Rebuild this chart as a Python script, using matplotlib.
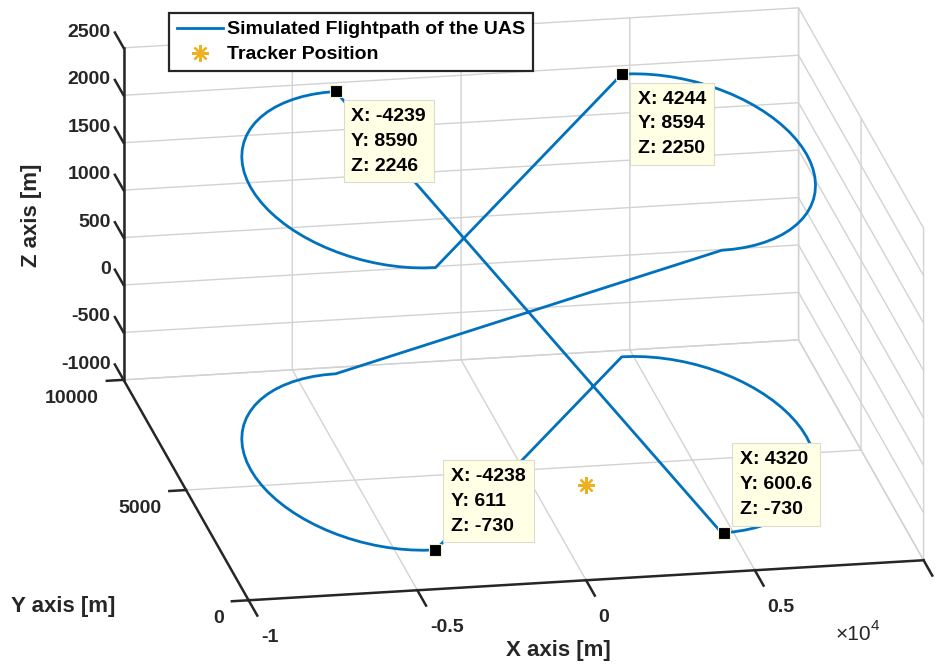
import numpy as np
import matplotlib
matplotlib.use("Agg")
import matplotlib.pyplot as plt
from matplotlib.lines import Line2D
from matplotlib.ticker import NullFormatter
from matplotlib.transforms import offset_copy
from mpl_toolkits.mplot3d import proj3d

# ---------------- data ----------------
arc_y = [8590, 8575, 8529, 8454, 8349, 8216, 8055, 7868, 7655, 7420, 7163, 6886,
         6593, 6283, 5961, 5629, 5289, 4943, 4595, 4247, 3901, 3561, 3229, 2907,
         2597, 2304, 2027, 1770, 1535, 1322, 1135, 974, 841, 736, 661, 615, 600]
left_loop_x = [-4240, -4588, -4934, -5274, -5606, -5928, -6238, -6531, -6808, -7065,
               -7300, -7513, -7700, -7861, -7994, -8099, -8174, -8220, -8235, -8220,
               -8174, -8099, -7994, -7861, -7700, -7513, -7300, -7065, -6808, -6531,
               -6238, -5928, -5606, -5274, -4934, -4588, -4240]
right_loop_x = [4240, 4588, 4934, 5274, 5606, 5928, 6238, 6531, 6808, 7065,
                7300, 7513, 7700, 7861, 7994, 8099, 8174, 8220, 8235, 8220,
                8174, 8099, 7994, 7861, 7700, 7513, 7300, 7065, 6808, 6531,
                6238, 5928, 5606, 5274, 4934, 4588, 4240]
upper_left_z = 2246
upper_right_z = 2250
lower_z = -730

tracker_x, tracker_y, tracker_z = [0], [0], [0]

tip_x = [-4239, 4244, -4238, 4320]
tip_y = [8590, 8594, 611, 600.6]
tip_z = [2246, 2250, -730, -730]
tip_labels = ["X: -4239\nY: 8590\nZ: 2246",
              "X: 4244\nY: 8594\nZ: 2250",
              "X: -4238\nY: 611\nZ: -730",
              "X: 4320\nY: 600.6\nZ: -730"]

x_ticks = [-10000, -5000, 0, 5000, 10000]
x_tick_labels = ["-1", "-0.5", "0", "0.5", ""]
y_ticks = [0, 5000, 10000]
y_tick_labels = ["0", "5000", "10000"]
z_ticks = [-1000, -500, 0, 500, 1000, 1500, 2000, 2500]
z_tick_labels = ["-1000", "-500", "0", "500", "1000", "1500", "2000", "2500"]

x_lim = (-10000, 10000)
y_lim = (0, 10000)
z_lim = (-1000, 2500)

# flight path assembled from the four loops (straight legs join them)
path_x = left_loop_x + right_loop_x + left_loop_x + right_loop_x + left_loop_x[:1]
path_y = arc_y + arc_y + arc_y + arc_y + arc_y[:1]
path_z = ([upper_left_z] * len(arc_y) + [upper_right_z] * len(arc_y)
          + [lower_z] * len(arc_y) + [lower_z] * len(arc_y) + [upper_left_z])

# ---------------- style ----------------
plt.rcParams['font.family'] = ['Liberation Sans', 'DejaVu Sans']
plt.rcParams['font.weight'] = 'bold'
plt.rcParams['grid.color'] = '#d2d2d2'
plt.rcParams['grid.linewidth'] = 1.0

AX_COLOR = '#262626'
GRID_COLOR = '#d2d2d2'
LINE_COLOR = '#0072BD'
STAR_COLOR = '#EDB120'
FIG_W, FIG_H = 937, 664

fig = plt.figure(figsize=(FIG_W / 100, FIG_H / 100), dpi=100)
ax = fig.add_axes([0, 0, 1, 1], projection='3d')
ax.computed_zorder = False
ax.set_proj_type('ortho')
ax.view_init(elev=18.86, azim=-100.39)
ax.set_box_aspect((686.2, 693.2, 350.8))
ax.set_xlim(*x_lim)
ax.set_ylim(*y_lim)
ax.set_zlim(*z_lim)
ax.set_xticks(x_ticks)
ax.set_yticks(y_ticks)
ax.set_zticks(z_ticks)
for axis in (ax.xaxis, ax.yaxis, ax.zaxis):
    axis.set_major_formatter(NullFormatter())
    axis.set_pane_color((1, 1, 1, 0))
    axis.line.set_color(AX_COLOR)
    axis.line.set_linewidth(1.8)
    axis._axinfo['tick']['inward_factor'] = 0.0
    axis._axinfo['tick']['linewidth'] = {True: 1.8, False: 1.0}
    axis._axinfo['grid']['color'] = GRID_COLOR
    axis._axinfo['grid']['linewidth'] = 1.0
    axis.set_tick_params(color=AX_COLOR)
ax.xaxis._axinfo['tick']['outward_factor'] = -0.87
ax.yaxis._axinfo['tick']['outward_factor'] = -0.31
ax.zaxis._axinfo['tick']['outward_factor'] = 0.87
ax.zaxis._get_tickdir = lambda *a, **k: 1
ax.grid(True)

# ---------------- marks ----------------
ax.plot(path_x, path_y, path_z, color=LINE_COLOR, lw=2.0, zorder=3)
ax.plot(tracker_x, tracker_y, tracker_z, linestyle='none', marker=(8, 2, 0),
        color=STAR_COLOR, ms=12, mew=1.6, zorder=4)
ax.plot(tip_x, tip_y, tip_z, linestyle='none', marker='s', ms=8,
        mfc='black', mec='#f2f2d0', mew=0.8, zorder=6)

def off(dx, dy):
    return offset_copy(ax.transData, fig=fig, x=dx, y=dy, units='dots')

for i in range(4):
    if i < 2:
        tr, va = off(15.8, -16.5), 'top'
    else:
        tr, va = off(15.8, 15.0), 'bottom'
    ax.text(tip_x[i], tip_y[i], tip_z[i], tip_labels[i], transform=tr,
            ha='left', va=va, fontsize=14, fontweight='bold', color='black',
            linespacing=1.6, zorder=8,
            bbox=dict(boxstyle='square,pad=0.4', fc='#FFFFE6', ec='#dcdccc', lw=0.8))

# tick labels
for v, s in zip(z_ticks, z_tick_labels):
    ax.text(x_lim[0], y_lim[1], v, s, transform=off(-13, 11), ha='right',
            va='baseline', fontsize=14, color=AX_COLOR, zorder=9)
for v, s in zip(y_ticks, y_tick_labels):
    ax.text(x_lim[0], v, z_lim[0], s, transform=off(-24.5, -23), ha='right',
            va='baseline', fontsize=14, color=AX_COLOR, zorder=9)
for v, s in zip(x_ticks, x_tick_labels):
    ax.text(v, y_lim[0], z_lim[0], s, transform=off(12.5, -41.5), ha='left',
            va='baseline', fontsize=14, color=AX_COLOR, zorder=9)

# exponent label
ax.text(x_lim[1], y_lim[0], z_lim[0], '\u00d710', transform=off(-88, -80),
        ha='left', va='baseline', fontsize=15, fontweight='normal', color=AX_COLOR, zorder=9)
ax.text(x_lim[1], y_lim[0], z_lim[0], '4', transform=off(-52.5, -70),
        ha='left', va='baseline', fontsize=11, fontweight='normal', color=AX_COLOR, zorder=9)

# axis labels
fig.text(558 / FIG_W, (FIG_H - 655.7) / FIG_H, 'X axis [m]', ha='center', va='baseline',
         fontsize=16, fontweight='bold', color=AX_COLOR)
fig.text(63 / FIG_W, (FIG_H - 612) / FIG_H, 'Y axis [m]', ha='center', va='baseline',
         fontsize=16, fontweight='bold', color=AX_COLOR)
fig.text(37 / FIG_W, (FIG_H - 215) / FIG_H, 'Z axis [m]', ha='center', va='baseline',
         rotation=90, rotation_mode='anchor', fontsize=16, fontweight='bold', color=AX_COLOR)

# legend
handles = [Line2D([], [], color=LINE_COLOR, lw=2.0),
           Line2D([], [], linestyle='none', marker=(8, 2, 0), color=STAR_COLOR, ms=12, mew=1.6)]
leg = fig.legend(handles, ['Simulated Flightpath of the UAS', 'Tracker Position'],
                 loc='upper left', bbox_to_anchor=(169 / FIG_W, (FIG_H - 13) / FIG_H),
                 borderaxespad=0, frameon=True, fancybox=False, framealpha=1,
                 edgecolor=AX_COLOR, facecolor='white', handlelength=2.4,
                 handletextpad=0.2, borderpad=0.4, labelspacing=0.38,
                 prop={'weight': 'bold', 'size': 14})
leg.get_frame().set_linewidth(1.6)

# ---------------- fit the projected box onto the reference layout ----------------
fig.canvas.draw()
corners = [(x_lim[0], y_lim[0], z_lim[0]), (x_lim[1], y_lim[0], z_lim[0]),
           (x_lim[0], y_lim[1], z_lim[0]), (x_lim[0], y_lim[1], z_lim[1]),
           (x_lim[1], y_lim[1], z_lim[1]), (x_lim[1], y_lim[0], z_lim[1])]
targets = [(248.5, 600.5), (923.5, 560), (123.5, 379.5), (123.5, 47), (799, 9), (923.5, 228.3)]
M = ax.get_proj()
bb = ax.bbox
A, b = [], []
for (cx, cy, cz), (tx, ty) in zip(corners, targets):
    xs, ys, _ = proj3d.proj_transform(cx, cy, cz, M)
    dx, dy = ax.transData.transform((xs, ys))
    A.append([1, 0, (dx - bb.x0) / bb.width]); b.append(tx)
    A.append([0, 1, (dy - bb.y0) / bb.height]); b.append(FIG_H - ty)
X0, Y0, S = np.linalg.lstsq(np.array(A), np.array(b), rcond=None)[0]
ax.set_position([X0 / FIG_W, Y0 / FIG_H, S / FIG_W, S / FIG_H])

fig.savefig('out.png', dpi=100)
